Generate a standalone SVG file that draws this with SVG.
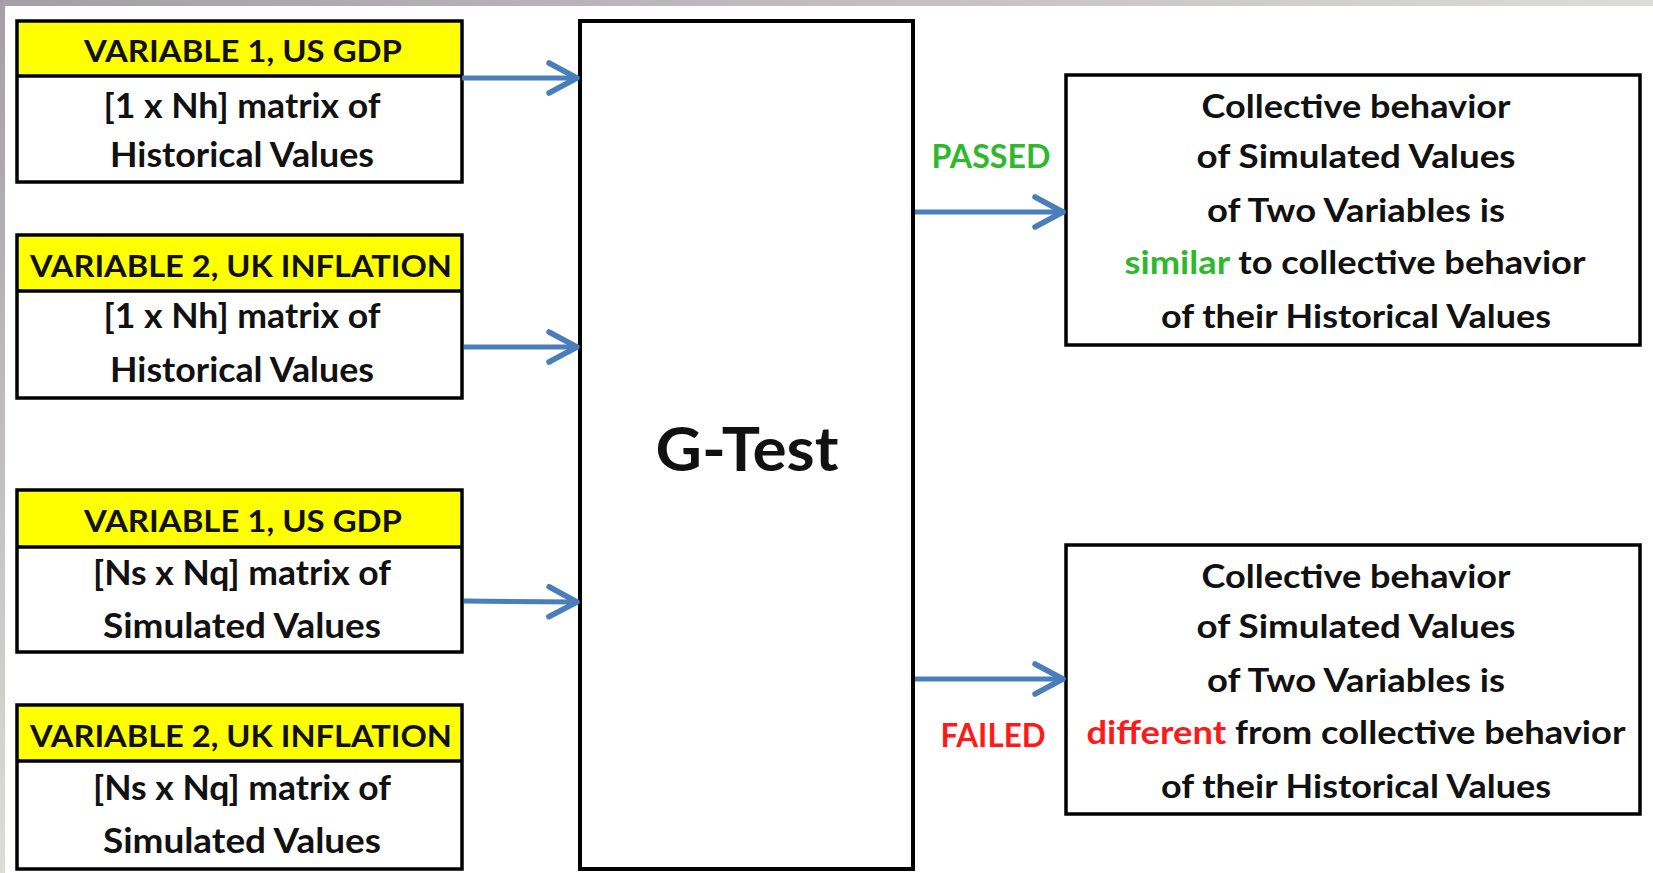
<svg xmlns="http://www.w3.org/2000/svg" width="1653" height="873" viewBox="0 0 1653 873">
<defs>
<linearGradient id="gTop" x1="0" y1="0" x2="1" y2="0">
<stop offset="0" stop-color="#a59ea6"/>
<stop offset="1" stop-color="#dcdcd8"/>
</linearGradient>
<linearGradient id="gLeft" x1="0" y1="0" x2="0" y2="1">
<stop offset="0" stop-color="#a59ea6"/>
<stop offset="1" stop-color="#dcdcd8"/>
</linearGradient>
<marker id="arr" markerUnits="userSpaceOnUse" viewBox="-36 -22 42 44" markerWidth="42" markerHeight="44" refX="0" refY="0" orient="auto" overflow="visible">
<path d="M-29,-15 L-1,0 L-29,15" fill="none" stroke="#4a7ebb" stroke-width="5.5" stroke-linecap="round" stroke-linejoin="round"/>
</marker>
</defs>
<style>
.box{fill:#ffffff;stroke:#000000;stroke-width:3.5}
.hdr{fill:#ffff00;stroke:none}
.div{stroke:#000000;stroke-width:3.5}
.big{fill:#ffffff;stroke:#000000;stroke-width:4}
.t{font-family:Lato,"Liberation Sans",sans-serif;font-weight:700;fill:#111111;text-anchor:middle}
.h{font-size:30px}
.b{font-size:34px}
.r{font-size:33px}
.g{font-size:62px}
.green{fill:#2eb82e}
.red{fill:#ff1a1a}
.conn{fill:none;stroke:#4a7ebb;stroke-width:5;stroke-linecap:butt;marker-end:url(#arr)}
</style>
<rect x="0" y="0" width="1653" height="873" fill="#ffffff"/>
<rect x="0" y="0" width="1653" height="6" fill="url(#gTop)"/>
<rect x="0" y="0" width="5" height="873" fill="url(#gLeft)"/>

<g id="var1-hist">
<rect class="box" x="17" y="21" width="445" height="161"/>
<rect class="hdr" x="19" y="23" width="441" height="53"/>
<line class="div" x1="17" y1="76" x2="462" y2="76"/>
<text class="t h" x="243" y="62" textLength="318" lengthAdjust="spacingAndGlyphs">VARIABLE 1, US GDP</text>
<text class="t b" x="242" y="118" textLength="277" lengthAdjust="spacingAndGlyphs">[1 x Nh] matrix of</text>
<text class="t b" x="242" y="167" textLength="264" lengthAdjust="spacingAndGlyphs">Historical Values</text>
</g>

<g id="var2-hist">
<rect class="box" x="17" y="235" width="445" height="163"/>
<rect class="hdr" x="19" y="237" width="441" height="54"/>
<line class="div" x1="17" y1="291" x2="462" y2="291"/>
<text class="t h" x="241" y="277" textLength="422" lengthAdjust="spacingAndGlyphs">VARIABLE 2, UK INFLATION</text>
<text class="t b" x="242" y="328" textLength="277" lengthAdjust="spacingAndGlyphs">[1 x Nh] matrix of</text>
<text class="t b" x="242" y="382" textLength="264" lengthAdjust="spacingAndGlyphs">Historical Values</text>
</g>

<g id="var1-sim">
<rect class="box" x="17" y="490" width="445" height="162"/>
<rect class="hdr" x="19" y="492" width="441" height="55"/>
<line class="div" x1="17" y1="547" x2="462" y2="547"/>
<text class="t h" x="243" y="532" textLength="318" lengthAdjust="spacingAndGlyphs">VARIABLE 1, US GDP</text>
<text class="t b" x="242" y="585" textLength="298" lengthAdjust="spacingAndGlyphs">[Ns x Nq] matrix of</text>
<text class="t b" x="242" y="638" textLength="278" lengthAdjust="spacingAndGlyphs">Simulated Values</text>
</g>

<g id="var2-sim">
<rect class="box" x="17" y="705" width="445" height="164"/>
<rect class="hdr" x="19" y="707" width="441" height="54"/>
<line class="div" x1="17" y1="761" x2="462" y2="761"/>
<text class="t h" x="241" y="747" textLength="422" lengthAdjust="spacingAndGlyphs">VARIABLE 2, UK INFLATION</text>
<text class="t b" x="242" y="800" textLength="298" lengthAdjust="spacingAndGlyphs">[Ns x Nq] matrix of</text>
<text class="t b" x="242" y="853" textLength="278" lengthAdjust="spacingAndGlyphs">Simulated Values</text>
</g>

<g id="gtest">
<rect class="big" x="580" y="21" width="333" height="848"/>
<text class="t g" x="747" y="471" textLength="183" lengthAdjust="spacingAndGlyphs">G-Test</text>
</g>

<g id="passed">
<rect class="box" x="1066" y="75" width="574" height="270"/>
<text class="t r" x="1356" y="118" textLength="309" lengthAdjust="spacingAndGlyphs">Collective behavior</text>
<text class="t r" x="1356" y="168" textLength="319" lengthAdjust="spacingAndGlyphs">of Simulated Values</text>
<text class="t r" x="1356" y="222" textLength="298" lengthAdjust="spacingAndGlyphs">of Two Variables is</text>
<text class="t r" x="1355" y="274" textLength="461" lengthAdjust="spacingAndGlyphs"><tspan class="green">similar</tspan> to collective behavior</text>
<text class="t r" x="1356" y="328" textLength="390" lengthAdjust="spacingAndGlyphs">of their Historical Values</text>
</g>

<g id="failed">
<rect class="box" x="1066" y="545" width="574" height="269"/>
<text class="t r" x="1356" y="588" textLength="309" lengthAdjust="spacingAndGlyphs">Collective behavior</text>
<text class="t r" x="1356" y="638" textLength="319" lengthAdjust="spacingAndGlyphs">of Simulated Values</text>
<text class="t r" x="1356" y="692" textLength="298" lengthAdjust="spacingAndGlyphs">of Two Variables is</text>
<text class="t r" x="1356" y="744" textLength="539" lengthAdjust="spacingAndGlyphs"><tspan class="red">different</tspan> from collective behavior</text>
<text class="t r" x="1356" y="798" textLength="390" lengthAdjust="spacingAndGlyphs">of their Historical Values</text>
</g>

<g id="connectors">
<path class="conn" d="M462,78 L578,78"/>
<path class="conn" d="M464,347 L578,347"/>
<path class="conn" d="M464,601 L578,602"/>
<path class="conn" d="M915,212 L1064,212"/>
<path class="conn" d="M915,679 L1064,679"/>
<text class="t r green" x="991" y="168" textLength="119" lengthAdjust="spacingAndGlyphs">PASSED</text>
<text class="t r red" x="993" y="747" textLength="105" lengthAdjust="spacingAndGlyphs">FAILED</text>
</g>
</svg>
